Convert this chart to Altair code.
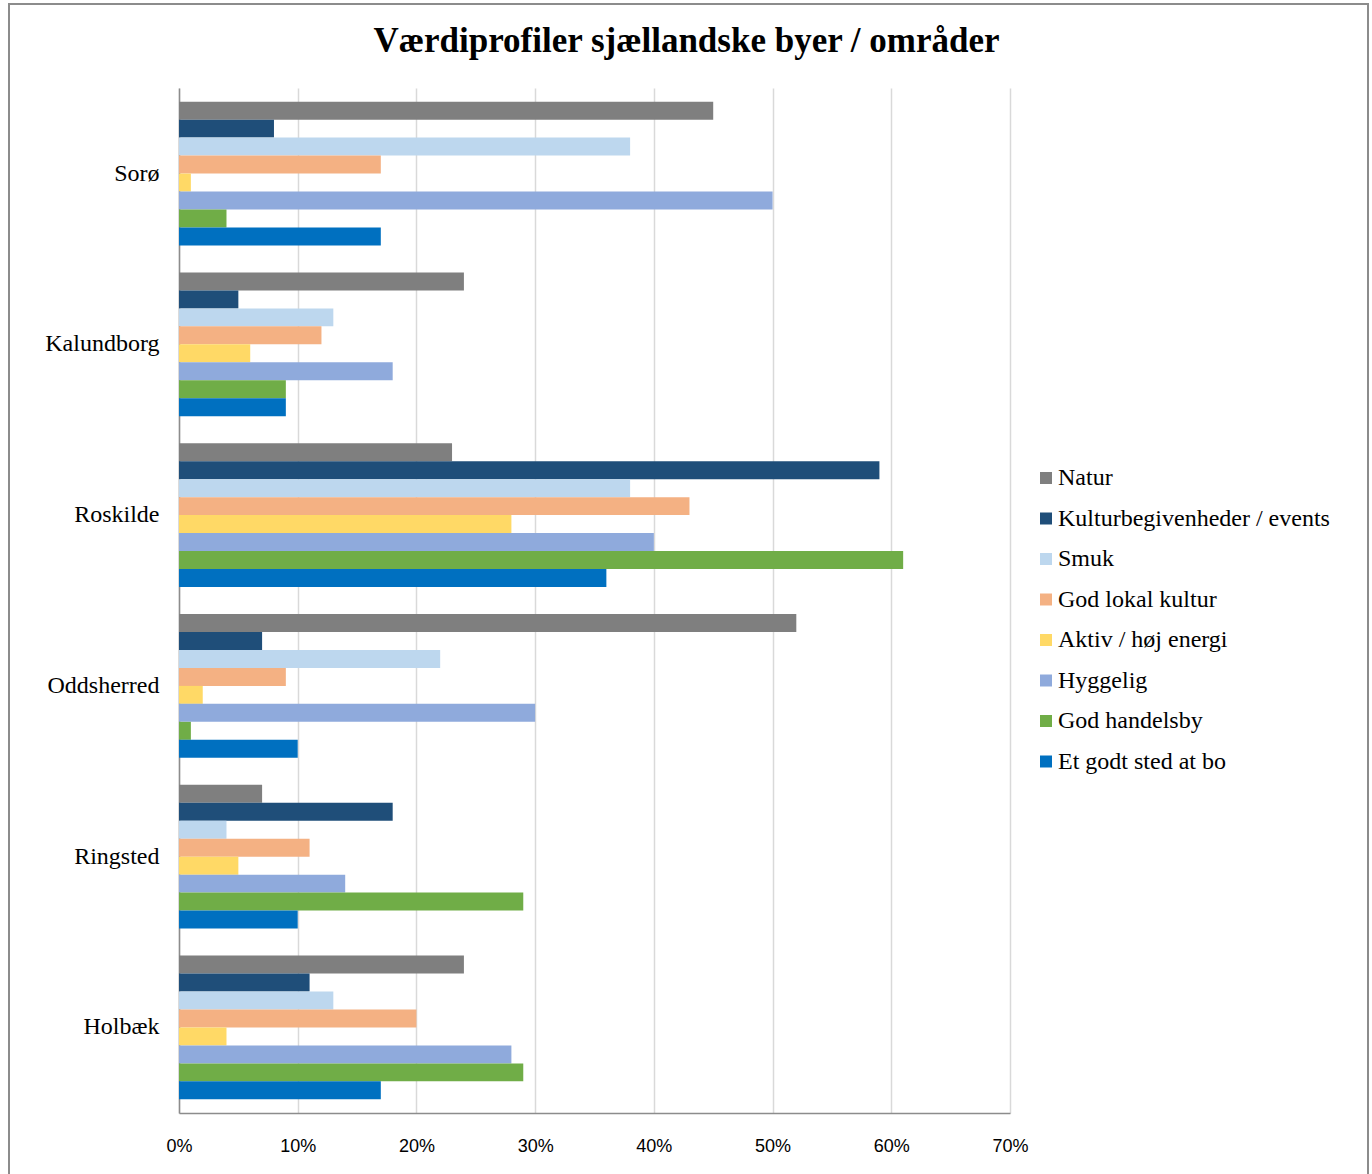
import altair as alt
import pandas as pd

cities = ["Sorø", "Kalundborg", "Roskilde", "Oddsherred", "Ringsted", "Holbæk"]
series = ["Natur", "Kulturbegivenheder / events", "Smuk", "God lokal kultur",
          "Aktiv / høj energi", "Hyggelig", "God handelsby", "Et godt sted at bo"]
colors = ["#7F7F7F", "#1F4E79", "#BDD7EE", "#F4B183", "#FFD966", "#8FAADC", "#70AD47", "#0070C0"]

# values in percent, per city, in series order
sorø = [45, 8, 38, 17, 1, 50, 4, 17]
kalundborg = [24, 5, 13, 12, 6, 18, 9, 9]
roskilde = [23, 59, 38, 43, 28, 40, 61, 36]
oddsherred = [52, 7, 22, 9, 2, 30, 1, 10]
ringsted = [7, 18, 4, 11, 5, 14, 29, 10]
holbæk = [24, 11, 13, 20, 4, 28, 29, 17]
values = [sorø, kalundborg, roskilde, oddsherred, ringsted, holbæk]

x_ticks = [0, 0.1, 0.2, 0.3, 0.4, 0.5, 0.6, 0.7]

rows = []
for c, vals in zip(cities, values):
    for s, v in zip(series, vals):
        rows.append({"city": c, "series": s, "value": v / 100})
df = pd.DataFrame(rows)

W, H = 831, 1025
PL, PT = 179, 88

bars = alt.Chart(df).mark_bar(opacity=1).encode(
    x=alt.X("value:Q",
            scale=alt.Scale(domain=[0, 0.7], nice=False),
            axis=alt.Axis(values=x_ticks, format=".0%", title=None, grid=True,
                          gridColor="#D9D9D9", gridWidth=1.5, domainColor="#8C8C8C",
                          domainWidth=1.5, ticks=False, labelPadding=24, labelFlush=False,
                          labelFont="Liberation Sans Narrow, Liberation Sans", labelFontSize=18,
                          labelColor="#000000")),
    y=alt.Y("city:N", sort=cities,
            scale=alt.Scale(paddingInner=0.158, paddingOuter=0.08),
            axis=alt.Axis(title=None, ticks=False, domainColor="#8C8C8C", domainWidth=1.5,
                          labelFont="Liberation Serif", labelFontSize=24, labelColor="#000000",
                          labelPadding=20)),
    yOffset=alt.YOffset("series:N", sort=series, scale=alt.Scale(paddingInner=0, paddingOuter=0)),
    color=alt.Color("series:N", sort=series,
                    scale=alt.Scale(domain=series, range=colors),
                    legend=alt.Legend(title=None, orient="none", legendX=855, legendY=378,
                                      symbolType="square", symbolSize=144, symbolStrokeWidth=0,
                                      labelFont="Liberation Serif", labelFontSize=24,
                                      labelColor="#000000", rowPadding=16.5, labelOffset=0,
                                      padding=0, labelLimit=400)),
)

border = alt.Chart(pd.DataFrame({"a": [0]})).mark_rect(
    fill=None, stroke="#8C8C8C", strokeWidth=2, clip=False
).encode(
    x=alt.value(9 - PL), x2=alt.value(1368 - PL),
    y=alt.value(4 - PT), y2=alt.value(1200 - PT),
)

chart = alt.layer(border, bars).properties(
    width=W, height=H,
    autosize=alt.AutoSizeParams(type="none"),
    padding={"left": PL, "top": PT, "right": 1372 - PL - W, "bottom": 1174 - PT - H},
    title=alt.Title("Værdiprofiler sjællandske byer / områder",
                    font="Liberation Serif", fontSize=35, fontWeight="bold",
                    color="#000000", anchor="middle", dx=92, offset=0, dy=56),
).configure_view(stroke=None)

chart.save("out.html", embed_options={"renderer": "svg", "actions": False})
